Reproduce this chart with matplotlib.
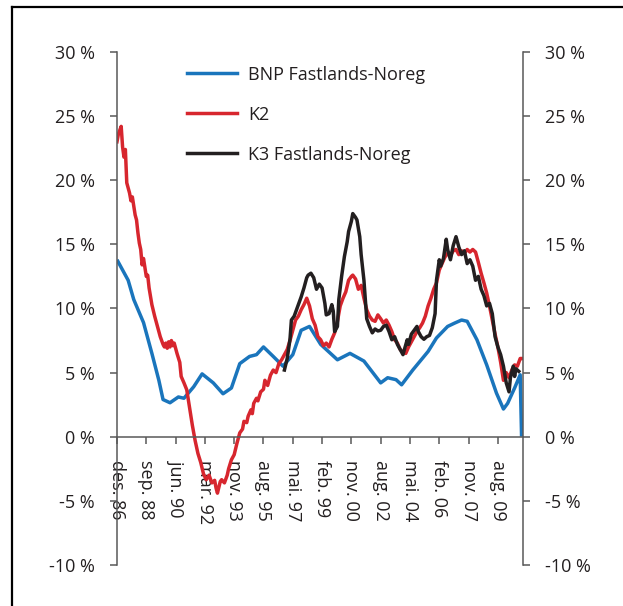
import matplotlib.pyplot as plt
from matplotlib.lines import Line2D

# months counted from December 1986
bnp_month = [0, 8, 12, 19, 25, 30, 33, 38, 44, 48, 55, 61, 69, 76, 82, 88, 95, 100, 105,
             112, 119, 126, 132, 138, 146, 158, 167, 177, 189, 194, 200, 204, 212, 223,
             229, 237, 242, 247, 251, 258, 265, 272, 277, 280, 285, 289, 290]
bnp_value = [13.8, 12.2, 10.7, 8.9, 6.5, 4.4, 2.9, 2.65, 3.1, 3.0, 3.9, 4.9, 4.2, 3.35, 3.8,
             5.7, 6.26, 6.4, 7.0, 6.26, 5.5, 6.4, 8.3, 8.6, 7.2, 6.0, 6.5, 5.9, 4.2, 4.6,
             4.45, 4.05, 5.2, 6.65, 7.7, 8.6, 8.86, 9.1, 9.0, 7.56, 5.6, 3.4, 2.16, 2.6,
             3.8, 4.83, 0.0]

k2_month = [0, 1, 3, 4, 5, 6, 7, 9, 10, 11, 13, 14, 15, 16, 17, 18, 19, 21, 22, 23, 25, 27,
            29, 31, 32, 33, 34, 35, 36, 37, 38, 39, 40, 41, 42, 43, 45, 46, 48, 50, 52, 54,
            56, 58, 60, 62, 64, 66, 68, 70, 71, 72, 74, 75, 77, 79, 80, 82, 84, 86, 88,
            90, 91, 93, 94, 96, 97, 98, 100, 101, 103, 105, 106, 108, 110, 112, 114, 116,
            118, 120, 122, 124, 126, 128, 130, 132, 134, 136, 138, 140, 142, 144, 146,
            148, 150, 152, 154, 156, 158, 160, 162, 164, 166, 168, 169, 171, 173, 175,
            177, 179, 181, 183, 185, 187, 189, 191, 193, 195, 197, 199, 201, 203, 205,
            207, 209, 211, 213, 215, 217, 219, 221, 223, 225, 227, 229, 231, 233, 235,
            237, 239, 241, 243, 245, 247, 249, 251, 253, 255, 257, 259, 261, 263, 265,
            267, 269, 271, 273, 275, 277, 279, 281, 283, 285, 287, 289, 290]
k2_value = [23.0, 23.6, 24.2, 22.6, 21.8, 22.4, 19.8, 19.0, 18.4, 18.7, 17.3, 16.9, 15.9,
            15.1, 14.6, 13.4, 13.9, 12.5, 12.6, 11.6, 10.3, 9.4, 8.6, 7.8, 7.5, 7.2, 7.0,
            7.3, 6.9, 7.4, 7.0, 7.5, 7.1, 7.3, 6.9, 6.5, 5.8, 4.7, 4.2, 3.66, 2.3, 0.9,
            -0.3, -1.3, -2.0, -2.9, -3.35, -3.0, -3.6, -3.4, -4.0, -4.4, -3.5, -3.35,
            -3.6, -3.0, -2.5, -1.8, -1.4, -0.5, 0.3, 0.6, 1.2, 1.1, 1.6, 2.1, 1.8, 2.6,
            3.0, 2.8, 3.5, 3.7, 4.4, 4.0, 4.8, 5.2, 5.0, 5.7, 6.0, 6.4, 6.8, 7.5, 8.3,
            9.1, 9.4, 9.9, 10.3, 10.8, 10.2, 9.2, 8.7, 7.8, 7.56, 7.1, 7.3, 7.0, 7.6,
            8.1, 9.0, 10.2, 10.8, 11.3, 12.2, 12.5, 12.6, 12.3, 11.5, 11.8, 10.8, 9.9,
            9.4, 9.1, 9.0, 9.5, 9.2, 8.86, 9.1, 8.7, 8.2, 7.56, 7.3, 6.8, 6.6, 6.5, 7.0,
            7.4, 7.8, 8.2, 8.5, 8.86, 9.4, 10.2, 10.8, 11.5, 12.0, 13.0, 13.5, 14.0,
            14.3, 14.1, 14.5, 14.6, 14.2, 14.5, 14.3, 14.6, 14.4, 14.6, 14.4, 13.6,
            12.75, 12.0, 11.2, 10.2, 9.1, 8.0, 7.0, 5.8, 4.4, 5.0, 4.6, 5.2, 5.6, 5.5,
            6.1, 6.1]

k3_month = [120, 122, 124, 125, 127, 129, 131, 132, 134, 136, 137, 139, 141, 143, 145, 147,
            149, 150, 152, 154, 155, 156, 158, 159, 161, 163, 165, 166, 168, 169, 171,
            172, 174, 175, 177, 179, 181, 183, 185, 187, 189, 191, 193, 195, 197, 199,
            201, 203, 205, 206, 208, 209, 211, 213, 215, 216, 218, 220, 222, 224, 226,
            228, 229, 231, 232, 234, 236, 237, 239, 241, 243, 245, 247, 249, 251, 253,
            255, 257, 259, 261, 263, 265, 267, 269, 271, 273, 275, 277, 279, 281, 282,
            284, 285, 286, 288]
k3_value = [5.2, 6.1, 7.6, 9.1, 9.4, 10.0, 10.6, 10.9, 11.6, 12.4, 12.6, 12.75, 12.4, 11.5,
            11.9, 11.6, 10.4, 9.5, 9.6, 10.3, 9.8, 8.2, 8.6, 10.7, 12.5, 14.05, 15.2,
            16.0, 16.8, 17.4, 17.1, 16.9, 15.6, 14.2, 12.2, 9.2, 8.6, 8.1, 8.4, 8.25,
            8.3, 8.6, 8.7, 8.2, 7.56, 7.8, 7.2, 6.8, 6.4, 6.8, 7.56, 7.2, 8.0, 8.3, 8.6,
            8.2, 7.8, 7.6, 7.8, 7.9, 8.5, 9.6, 12.2, 13.8, 13.3, 13.9, 15.4, 14.6, 13.8,
            14.9, 15.6, 14.8, 14.2, 14.5, 13.5, 13.8, 13.3, 12.2, 12.5, 11.5, 11.0, 10.2,
            10.4, 9.6, 7.8, 7.0, 6.4, 5.5, 4.2, 3.5, 4.6, 5.5, 4.7, 5.3, 5.1]

tick_months = [0, 21, 42, 63, 84, 105, 126, 147, 168, 189, 210, 231, 252, 273]
tick_labels = ['des. 86', 'sep. 88', 'jun. 90', 'mar. 92', 'nov. 93', 'aug. 95', 'mai. 97',
               'feb. 99', 'nov. 00', 'aug. 02', 'mai. 04', 'feb. 06', 'nov. 07', 'aug. 09']
pct_ticks = [-10, -5, 0, 5, 10, 15, 20, 25, 30]

blue = '#1a75bc'
red = '#d7262e'
black = '#231f20'
axis_grey = '#595959'
fs = 13

plt.rcParams['font.family'] = ['Open Sans', 'DejaVu Sans']

fig = plt.figure(figsize=(6.23, 6.06), dpi=100)
ax = fig.add_axes([0.1878, 0.0677, 0.8390 - 0.1878, 0.8465])

ax.plot(bnp_month, bnp_value, color=blue, lw=2.5, solid_capstyle='butt')
ax.plot(k2_month, k2_value, color=red, lw=2.5)
ax.plot(k3_month, k3_value, color=black, lw=2.5)

ax.set_xlim(0, 290.8)
ax.set_ylim(-10, 30)

ax.spines['top'].set_visible(False)
ax.spines['bottom'].set_position(('data', 0))
for side in ['left', 'right', 'bottom']:
    ax.spines[side].set_color(axis_grey)
    ax.spines[side].set_linewidth(1.1)

ax.set_yticks(pct_ticks)
ax.set_yticklabels([f'{v} %' for v in pct_ticks])
ax.tick_params(axis='y', which='both', direction='out', length=5, width=1.1, color=axis_grey,
               labelsize=fs, labelcolor=black, pad=11, left=True, right=True,
               labelleft=True, labelright=True)

ax.set_xticks(tick_months)
ax.set_xticklabels(tick_labels, rotation=-90, va='top', ha='center')
ax.tick_params(axis='x', direction='out', length=5, width=1.1, color=axis_grey,
               labelsize=fs, labelcolor=black, pad=12)

handles = [Line2D([], [], color=blue, lw=2.5),
           Line2D([], [], color=red, lw=2.5),
           Line2D([], [], color=black, lw=2.5)]
fig.legend(handles, ['BNP Fastlands-Noreg', 'K2', 'K3 Fastlands-Noreg'],
           loc='upper left', bbox_to_anchor=(0.2886, 0.9035), frameon=False, fontsize=fs,
           handlelength=2.77, handletextpad=0.61, labelspacing=1.22, borderaxespad=0,
           labelcolor=black)

# open frame: top and left edges
fig.add_artist(Line2D([0.0185, 1.0], [0.989, 0.989], color='black', lw=1.6,
                      transform=fig.transFigure))
fig.add_artist(Line2D([0.0185, 0.0185], [0.0, 0.989], color='black', lw=1.6,
                      transform=fig.transFigure))

fig.savefig('out.png', dpi=100)
